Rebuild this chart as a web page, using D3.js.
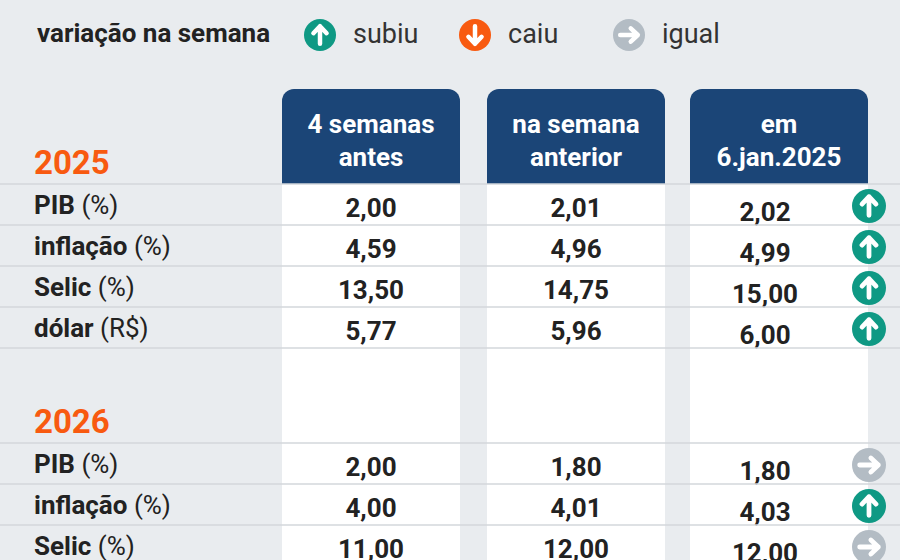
<!DOCTYPE html>
<html><head><meta charset="utf-8">
<script src="https://cdn.jsdelivr.net/npm/d3@7"></script>
<style>body{margin:0;background:#e9ecef;font-family:Roboto,sans-serif}</style>
</head><body><svg id="c" width="900" height="560"></svg>
<script>
var headers = [["4 semanas", "antes"], ["na semana", "anterior"], ["em", "6.jan.2025"]];
var labels = [["PIB", " (%)"], ["inflação", " (%)"], ["Selic", " (%)"], ["dólar", " (R$)"]];
var v2025 = [["2,00", "2,01", "2,02"], ["4,59", "4,96", "4,99"], ["13,50", "14,75", "15,00"], ["5,77", "5,96", "6,00"]];
var t2025 = ["up", "up", "up", "up"];
var v2026 = [["2,00", "1,80", "1,80"], ["4,00", "4,01", "4,03"], ["11,00", "12,00", "12,00"]];
var t2026 = ["eq", "up", "eq"];
var legend = [["up", "subiu"], ["down", "caiu"], ["eq", "igual"]];
var colors = {up: "#0f9984", down: "#f85a10", eq: "#b3bcc4"};

var svg = d3.select("#c");
var rowH = 41;

function icon(g, type, cx, cy, r) {
	g.append("circle").attr("cx", cx).attr("cy", cy).attr("r", r).attr("fill", colors[type]);
	var s = r * 0.55, p;
	if (type == "up") p = "M0," + (s) + "V" + (-s) + "M" + (-s * 0.75) + "," + (-s * 0.2) + "L0," + (-s) + "L" + (s * 0.75) + "," + (-s * 0.2);
	else if (type == "down") p = "M0," + (-s) + "V" + (s) + "M" + (-s * 0.75) + "," + (s * 0.2) + "L0," + (s) + "L" + (s * 0.75) + "," + (s * 0.2);
	else p = "M" + (-s) + ",0H" + s + "M" + (s * 0.2) + "," + (-s * 0.75) + "L" + s + ",0L" + (s * 0.2) + "," + (s * 0.75);
	g.append("path").attr("transform", "translate(" + cx + "," + cy + ")").attr("d", p)
		.attr("stroke", "#fff").attr("stroke-width", r * 0.28).attr("fill", "none")
		.attr("stroke-linecap", "round").attr("stroke-linejoin", "round");
}

// legend
svg.append("text").attr("x", 37).attr("y", 42).attr("font-size", 26).attr("font-weight", 700).attr("fill", "#222").text("variação na semana");
var lx = [320, 475, 629];
legend.forEach(function (d, i) {
	icon(svg, d[0], lx[i], 35, 16);
	svg.append("text").attr("x", lx[i] + 33).attr("y", 43).attr("font-size", 27).attr("fill", "#333").text(d[1]);
});

// columns
var colW = 178;
var cx = [282, 487, 690];
headers.forEach(function (h, i) {
	svg.append("rect").attr("x", cx[i]).attr("y", 184).attr("width", colW).attr("height", 400).attr("fill", "#fff");
	svg.append("path").attr("fill", "#1b4577")
		.attr("d", "M" + cx[i] + ",184V101a12,12 0 0 1 12,-12H" + (cx[i] + colW - 12) + "a12,12 0 0 1 12,12V184Z");
	h.forEach(function (t, j) {
		svg.append("text").attr("x", cx[i] + colW / 2).attr("y", 133 + j * 33).attr("text-anchor", "middle")
			.attr("font-size", 26).attr("font-weight", 700).attr("fill", "#fff").text(t);
	});
});

function section(year, top, vals, trends) {
	svg.append("text").attr("x", 34).attr("y", top - 10).attr("font-size", 33).attr("font-weight", 700).attr("fill", "#f85a10").text(year);
	var y = d3.scaleBand().domain(d3.range(vals.length)).range([top, top + vals.length * rowH]);
	vals.forEach(function (row, r) {
		var y0 = y(r);
		svg.append("line").attr("x1", 0).attr("x2", 900).attr("y1", y0).attr("y2", y0).attr("stroke", "#d3d7db").attr("stroke-width", 1.5);
		var t = svg.append("text").attr("x", 34).attr("y", y0 + 30).attr("font-size", 26).attr("fill", "#222");
		t.append("tspan").attr("font-weight", 700).text(labels[r][0]);
		t.append("tspan").text(labels[r][1]);
		row.forEach(function (v, c) {
			svg.append("text").attr("x", cx[c] + colW / 2 - (c == 2 ? 14 : 0)).attr("y", y0 + 33 + (c == 2 ? 4 : 0))
				.attr("text-anchor", "middle").attr("font-size", 26).attr("font-weight", 700).attr("fill", "#222").text(v);
		});
		icon(svg, trends[r], 869, y0 + 22, 17);
	});
	var yb = top + vals.length * rowH;
	svg.append("line").attr("x1", 0).attr("x2", 900).attr("y1", yb).attr("y2", yb).attr("stroke", "#d3d7db").attr("stroke-width", 1.5);
}
section("2025", 184, v2025, t2025);
section("2026", 443, v2026, t2026);
</script></body></html>
